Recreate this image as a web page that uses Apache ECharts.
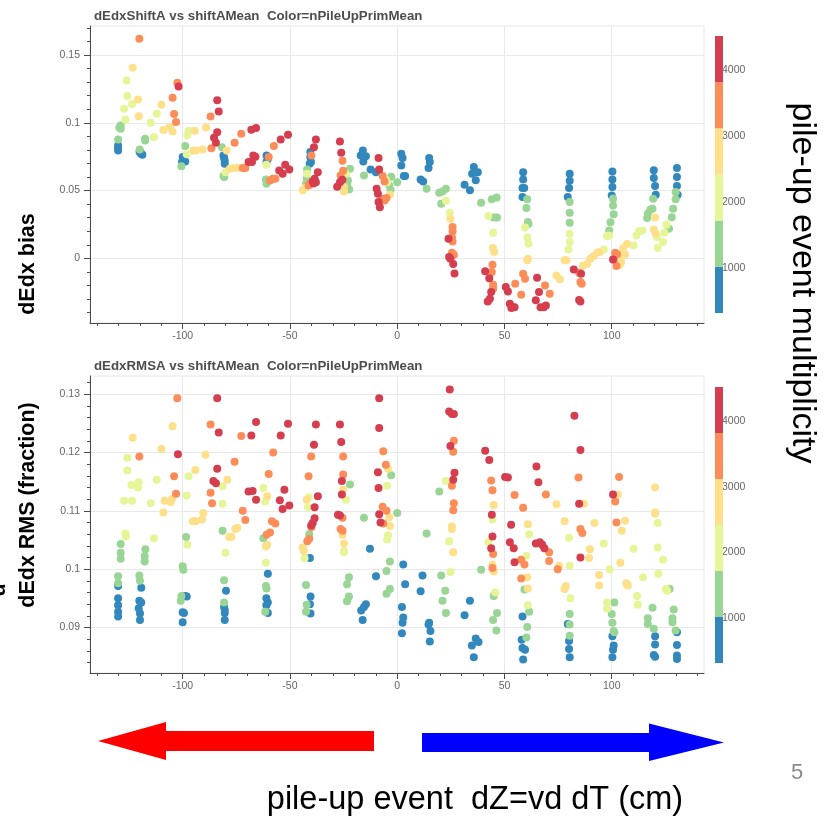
<!DOCTYPE html>
<html><head><meta charset="utf-8">
<script src="https://cdn.jsdelivr.net/npm/echarts@6.0.0/dist/echarts.min.js"></script>
<style>html,body{margin:0;padding:0;background:#fff}#c{width:829px;height:816px}</style>
</head><body><div id="c"></div>
<script>
// colour bins of nPileUpPrimMean (colour bar) and representative value per bin
const binEdges = [320, 1020, 1720, 2420, 3120, 3820, 4520];
const binColors = ['#3288bd', '#99d594', '#e6f598', '#fee08b', '#fc8d59', '#d53e4f'];
const binMid = [670, 1370, 2070, 2770, 3470, 4170];
const barTicks = [1000, 2000, 3000, 4000];
const xTicks = [-100, -50, 0, 50, 100];
const biasTicks = [0, 0.05, 0.1, 0.15];
const rmsTicks = [0.09, 0.1, 0.11, 0.12, 0.13];

// dEdx bias vs shiftAMean, grouped by colour bin
const biasBlue = [[-130.1,0.0833],[-130.1,0.0813],[-130.1,0.0796],[-120.1,0.0789],[-119.8,0.078],[-119.3,0.0771],[-118.8,0.0764],
[-100,0.0747],[-99.4,0.073],[-98.8,0.0715],[-100.3,0.071],[-81,0.0759],[-80.7,0.074],[-80.4,0.0722],[-80.4,0.0697],
[-60.9,0.0759],[-60.3,0.0735],[-60.9,0.071],[-40.5,0.0784],[-40.5,0.0747],[-40.2,0.071],[-40.8,0.0698],
[-16,0.0796],[-17,0.0759],[-14.6,0.0754],[-15.8,0.0715],[-12.4,0.0656],[-9.9,0.0636],
[1.9,0.0771],[2.5,0.074],[1.9,0.0685],[3.1,0.0607],[3.7,0.0607],[10.9,0.0582],[12.1,0.0567],[14.9,0.074],[15.2,0.071],[14.6,0.0666],
[31.4,0.0543],[33.9,0.0503],[35.7,0.0673],[34.9,0.0624],[37.6,0.0636],[36.6,0.0577],
[58.7,0.0636],[58.7,0.0582],[58.4,0.0518],[59.2,0.0518],[58.4,0.0452],[80.4,0.0624],[80.4,0.0572],[80.1,0.0518],[79.5,0.0452],
[100.3,0.0641],[100.3,0.0582],[100.3,0.0526],[100,0.0464],[119.6,0.0649],[119.6,0.0592],[120.2,0.0533],[120.5,0.0469],
[130.4,0.0666],[130.4,0.06],[130.4,0.0533],[130.7,0.0469]];
const biasGreen = [[-130.1,0.0877],[-128.9,0.098],[-128.9,0.0956],[-129.5,0.0965],[-120,0.0803],[-117.5,0.0882],[-117.5,0.087],
[-100.6,0.068],[-98.8,0.0828],[-81.7,0.082],[-81,0.0607],[-80.6,0.06],[-61.2,0.0582],[-60.9,0.055],
[-42,0.0656],[-42.2,0.0587],[-42.5,0.055],[-22,0.066],[-23,0.0575],[-22.4,0.0508],[-23.3,0.055],[-15.5,0.0612],
[-2.8,0.0602],[-3.7,0.0538],[-3.1,0.0506],[0,0.0562],[13.7,0.0513],[19.6,0.0484],[21.1,0.0494],[22.7,0.0513],[20.5,0.0403],
[39.1,0.041],[44.1,0.0435],[46.3,0.0449],[45,0.0302],[46.5,0.0302],[60.6,0.0435],[60.2,0.0371],[60.9,0.0268],[61.2,0.0253],
[80.4,0.0415],[80.4,0.0336],[80.4,0.0263],[98.8,0.0206],[99.4,0.0267],[100.9,0.0326],[100.6,0.039],[100.6,0.044],
[116.5,0.0297],[116.8,0.0329],[118,0.0361],[119,0.0366],[119.3,0.044],[126.7,0.0218],[128,0.0304],[128.6,0.0366],[129.8,0.0435],[129.8,0.0489]];
const biasLime = [[-126.1,0.1312],[-125.8,0.1197],[-123.6,0.1138],[-127.3,0.1103],[-126.7,0.1022],[-114.9,0.1],[-113.4,0.0894],[-112.1,0.1066],
[-97.8,0.0907],[-97.2,0.0941],[-98.1,0.0767],[-80.1,0.0636],[-61,0.069],[-42,0.0624],[-23.9,0.0624],[-5.4,0.0582],[-4.7,0.0562],
[22.7,0.0425],[24.5,0.0336],[42.5,0.0312],[44.7,0.0189],[59.6,0.0228],[60.6,0.0154],[61.2,0.0108],[80.4,0.0182],[80.4,0.012],[79.8,0.0066],
[96.3,0.0066],[97.8,0.0164],[98.8,0.0169],[110.2,0.0095],[111.5,0.0169],[112.7,0.0199],[114.3,0.0206],
[121.1,0.0157],[123.9,0.012],[121.4,0.0076],[125.5,0.0248],[124.5,0.0189]];
const biasYellow = [[-123.3,0.1406],[-120.8,0.1172],[-120.5,0.1049],[-109.9,0.1133],[-109,0.0946],[-105.9,0.0968],[-104.7,0.0936],
[-94.4,0.0941],[-95,0.0796],[-93.8,0.0796],[-90.7,0.0803],[-89.1,0.0966],[-79.5,0.0796],[-78,0.066],[-76.1,0.0666],[-74.2,0.0669],
[-44,0.0503],[-43,0.0518],[-24.8,0.0526],[-24.8,0.0494],[-3.4,0.0469],[24.8,0.0292],[44.6,0.0076],[45.2,0.0046],[60.9,-0.0003],[60.6,-0.0015],
[74.2,-0.0126],[75.8,-0.0155],[78,-0.0015],[78.9,-0.0015],[86.6,-0.0052],[88.5,-0.0042],[90,-0.0003],[91.6,0.0017],[93.2,0.0041],[94.4,0.0046],
[104,0.0022],[105.3,0.0076],[107.1,0.0105],[104.3,-0.0028],[106.2,0.0027],[103.7,-0.0047],[120.2,0.0302],[119.6,0.0213],[120.5,0.0182]];
const biasOrange = [[-120.2,0.162],[-104.7,0.1184],[-104,0.1064],[-103.1,0.1005],[-102.5,0.1295],[-87,0.1047],[-86.6,0.0813],
[-75.8,0.0853],[-72.7,0.0919],[-72,0.0666],[-70.8,0.0666],[-59.9,0.0747],[-59.3,0.0575],[-58,0.0587],[-56.8,0.0587],[-57.5,0.0828],
[-40,0.0759],[-41.3,0.0538],[-40.7,0.0553],[-25.5,0.072],[-25.2,0.0646],[-26.4,0.0612],
[-6.8,0.0607],[-5.9,0.0567],[-6.8,0.044],[-5,0.0445],[-5.9,0.0427],
[25.8,0.0231],[25.8,0.0199],[25.5,0.0154],[25.8,0.0125],[25.5,0.0041],[26.4,0.0027],
[44.4,-0.0047],[44.1,-0.0101],[44.7,-0.0195],[44.7,-0.0224],[55,-0.0187],[57.8,-0.0268],[58.7,-0.0114],[59.6,-0.015],
[68.9,-0.02],[71.1,-0.0261],[84.8,-0.0106],[85.4,-0.0175],[86,-0.0187],[101.6,0.0041],[102.5,0.0031],[100.9,-0.0008],[102.2,-0.0057]];
const biasRed = [[-101.9,0.1268],[-83.9,0.1167],[-83.2,0.1084],[-85.4,0.0889],[-84.5,0.0853],[-83.9,0.0931],
[-69.3,0.071],[-67.7,0.071],[-67.1,0.0759],[-66.1,0.075],[-68,0.0948],[-65.8,0.0961],
[-54.3,0.0877],[-50.9,0.0911],[-55,0.0648],[-53.4,0.0624],[-52.2,0.069],[-50.3,0.0656],
[-37.9,0.0877],[-38.8,0.082],[-37,0.0636],[-38.5,0.0587],[-39.4,0.0567],[-39,0.0553],[-37.9,0.0562],
[-26.7,0.0862],[-26.1,0.0779],[-28,0.0528],[-26.7,0.0562],[-25.6,0.058],
[-8.7,0.074],[-8.4,0.0656],[-9.6,0.0513],[-9,0.0476],[-8.7,0.0415],[-8.1,0.0376],
[23.9,0.0145],[24.2,0.0009],[24.8,-0.0003],[26.1,-0.0042],[26.7,-0.0111],
[41,-0.0096],[42.9,-0.0146],[43.8,-0.0249],[43.2,-0.0298],[42.2,-0.0318],
[50.6,-0.0212],[51.6,-0.0244],[52.5,-0.0335],[53.6,-0.036],[54.7,-0.036],[53.2,-0.0367],
[65.2,-0.0143],[66.1,-0.0249],[64.6,-0.031],[66.8,-0.036],[68.3,-0.036],[69.3,-0.0347],
[82.3,-0.0082],[85.7,-0.0114],[84.8,-0.0308],[85.4,-0.0318],[100.6,-0.0008]];

// dEdx RMS vs shiftAMean, grouped by colour bin
const rmsBlue = [[-130.1,0.0971],[-130.1,0.095],[-130.1,0.0938],[-130.1,0.0927],[-130.1,0.0919],
[-119.3,0.0968],[-120.2,0.0946],[-119.3,0.0943],[-120.5,0.0933],[-119.9,0.0924],[-119.9,0.0913],
[-98.8,0.0954],[-98.1,0.0953],[-100,0.0926],[-99.4,0.0925],[-100,0.0909],
[-79.8,0.0963],[-80.7,0.0935],[-80.4,0.093],[-80.4,0.0925],[-80.4,0.0913],
[-60.3,0.0992],[-61,0.095],[-60.3,0.0943],[-61,0.0938],[-60.3,0.0925],
[-40.7,0.1019],[-40.4,0.0953],[-40.7,0.094],[-40.4,0.0924],
[-12.7,0.1035],[-14.6,0.094],[-15.5,0.0935],[-16.8,0.0929],[-16.1,0.0913],[-9.9,0.0988],
[2.8,0.1008],[3.7,0.0974],[2.2,0.0935],[2.8,0.0917],[2.5,0.0908],[2.2,0.089],[11.8,0.0989],[10.9,0.0962],
[14.9,0.0908],[15.5,0.0894],[14.6,0.0905],[15.2,0.0876],
[33.9,0.0946],[31.4,0.0921],[36.6,0.0881],[37.9,0.0875],[34.8,0.0869],[35.7,0.0849],
[58.4,0.0919],[58,0.0879],[58.4,0.0865],[59.6,0.0862],[58.7,0.0845],
[79.5,0.0906],[80.1,0.0877],[80.1,0.0863],[80.4,0.0849],
[100.3,0.0885],[100.9,0.0869],[100.6,0.0862],[100.3,0.0849],
[120.2,0.0885],[120.2,0.0871],[119.6,0.0853],[120.2,0.085],
[130.4,0.0892],[130.4,0.087],[130.4,0.0852],[130.4,0.0846]];
const rmsGreen = [[-128.9,0.1043],[-128.9,0.1028],[-128.9,0.1018],[-130.1,0.0988],[-130.1,0.0976],
[-117.4,0.1034],[-117.7,0.1022],[-117.7,0.1013],[-120.2,0.0989],[-119.9,0.098],
[-100,0.1005],[-99.7,0.0999],[-100.6,0.0954],[-100.9,0.0946],[-98.4,0.1055],
[-81.4,0.1066],[-80.7,0.0981],[-80.7,0.0943],[-62.4,0.1053],[-60.9,0.0967],[-61.2,0.0971],[-61.5,0.0927],
[-42.5,0.0973],[-42.2,0.0939],[-42.5,0.0927],[-41,0.106],
[-22,0.1145],[-22.5,0.0986],[-23.4,0.0974],[-22.5,0.0953],[-23.4,0.0945],[-15.5,0.1088],
[-2.8,0.1161],[0,0.1096],[-3.4,0.1013],[-5,0.0997],[-3.4,0.0966],[-5,0.0958],[13.7,0.1061],
[19.6,0.1133],[20.5,0.0989],[22.4,0.0963],[21.1,0.0946],[22.7,0.0925],[39.1,0.0999],
[45,0.0954],[44.7,0.0913],[46.5,0.0925],[46.2,0.0895],[59.3,0.0965],[61.5,0.0927],[60.6,0.0901],[60.2,0.0883],
[80.4,0.0923],[80.4,0.0905],[80.4,0.0886],[101.2,0.0943],[100,0.0923],[100.3,0.0908],[100.9,0.0894],[101.2,0.0892],
[127,0.0966],[119,0.0934],[116.8,0.0916],[116.8,0.0906],[119.6,0.0898],[128.9,0.0931],[128.3,0.0916],[128.3,0.0909],[129.8,0.0895]];
const rmsLime = [[-125.8,0.1191],[-125.8,0.1169],[-123.9,0.1144],[-120.5,0.1149],[-120.8,0.114],
[-112.1,0.1153],[-127.3,0.1117],[-123.6,0.1117],[-114.9,0.1113],[-126.7,0.1061],[-126.4,0.1056],[-113.4,0.1053],
[-97.2,0.1159],[-98.1,0.1126],[-97.8,0.1042],[-81.4,0.1142],[-81.4,0.1112],[-80.1,0.1028],
[-62.4,0.1139],[-61.5,0.1116],[-61.2,0.1011],[-41.3,0.1123],[-41.6,0.1106],[-43.2,0.1019],
[-23.9,0.1119],[-24.8,0.1031],[-24.8,0.1029],[-4.7,0.1143],[-4.3,0.1058],[-4.7,0.1051],
[22.7,0.1151],[24.2,0.1048],[24.8,0.0995],[44.4,0.1085],[42.5,0.1046],[45.7,0.096],
[61.5,0.106],[60.2,0.1023],[60.9,0.0938],[80.1,0.1054],[80.4,0.1006],[80.7,0.095],
[96.3,0.1044],[99.1,0.1],[97.8,0.0943],[97.8,0.0932],[110.2,0.1035],[114.6,0.0986],[111.8,0.0954],[112.1,0.0939],
[121.4,0.1079],[121.4,0.1037],[123.9,0.1016],[121.7,0.0992],[125.2,0.0966],[125.8,0.0963]];
const rmsYellow = [[-123.3,0.1225],[-104.7,0.1245],[-109.9,0.1206],[-89.4,0.1196],[-94.1,0.117],[-79.2,0.1153],
[-60.6,0.1125],[-108.4,0.1117],[-105.6,0.1115],[-105,0.112],[-109,0.1097],[-90.4,0.1096],[-95.3,0.1082],[-94.1,0.1082],[-91,0.1085],
[-75.5,0.1069],[-74.5,0.1071],[-78.3,0.1055],[-77.3,0.1055],[-61.2,0.1039],[-60.6,0.1042],
[-42.2,0.1119],[-44.1,0.1037],[-43.5,0.1031],[-25.2,0.1136],[-25.5,0.1059],[-24.8,0.1044],
[-4.3,0.1172],[-3.7,0.1089],[-3.4,0.1074],[25.5,0.1073],[25.5,0.1069],[26.1,0.1029],
[45,0.111],[44.4,0.1008],[45,0.0996],[60.9,0.1077],[60.6,0.0986],[60.9,0.0967],
[74.2,0.1111],[75.5,0.1006],[78,0.1082],[78.6,0.0971],[78,0.0966],
[87,0.1112],[89.8,0.1034],[89.4,0.1019],[91.9,0.1079],[94.1,0.099],[94.1,0.0972],
[102.8,0.1128],[106.2,0.1083],[104.7,0.1066],[104,0.1011],[106.8,0.0976],[107.5,0.0972],
[120.2,0.114],[120.2,0.1097],[120.2,0.1095]];
const rmsOrange = [[-102.5,0.1293],[-87,0.1248],[-72.7,0.1228],[-120.2,0.1193],[-57.8,0.12],[-75.8,0.1184],[-104,0.1159],[-59.9,0.1163],
[-103.1,0.1129],[-87,0.1131],[-86.3,0.1113],[-72,0.11],[-70.8,0.1084],[-58.4,0.1082],[-56.8,0.1078],[-60.9,0.1059],[-59.3,0.1063],
[-40.1,0.1193],[-41.3,0.1159],[-40,0.1072],[-41,0.1052],[-41.9,0.1048],
[-25.2,0.1193],[-25.2,0.1162],[-25.5,0.1088],[-26.4,0.1069],[-25.5,0.1066],
[-6.5,0.1202],[-5.3,0.1179],[-6.8,0.1107],[-5,0.11],[-6.5,0.1078],
[26.4,0.122],[26.1,0.1201],[25.5,0.1143],[26.4,0.1113],[26.1,0.1101],
[43.8,0.1152],[44.4,0.1135],[44.7,0.1026],[44.4,0.1002],
[54.7,0.1127],[57.8,0.1016],[59.3,0.1008],[57.8,0.0984],[58.7,0.1105],
[69.3,0.1128],[70.8,0.1029],[70.8,0.1014],[74.8,0.1],[84.5,0.1157],[85.4,0.1069],[86.3,0.1062],
[103.4,0.1158],[101.6,0.1116],[102.2,0.108]];
const rmsRed = [[-83.9,0.1293],[-83.2,0.1234],[-65.8,0.1252],[-68,0.1229],[-54.3,0.1229],[-50.9,0.1249],
[-102.2,0.1197],[-83.9,0.1172],[-85.7,0.1151],[-84.5,0.1147],
[-69.3,0.1133],[-67.4,0.1134],[-65.8,0.1119],[-52.6,0.1136],[-54.7,0.1118],[-53.4,0.1103],[-50.3,0.1109],
[-37.9,0.1248],[-38.8,0.1213],[-37,0.1125],[-38.5,0.1106],[-38.5,0.1087],[-39.4,0.1079],[-40.1,0.1075],
[-26.7,0.1248],[-26.1,0.1218],[-25.8,0.1151],[-25.8,0.1128],[-27.6,0.1093],[-26.7,0.1092],
[-8.4,0.1293],[-8.4,0.1242],[-9,0.1166],[-8.7,0.1139],[-8.4,0.1094],[-7.8,0.108],
[24.5,0.1308],[24.2,0.127],[25.5,0.1266],[26.4,0.1266],[24.8,0.1211],[26.7,0.1165],[26.1,0.1153],
[41,0.1203],[42.9,0.1187],[44.1,0.1093],[44.4,0.1056],[43.8,0.1036],
[50.3,0.1158],[51.6,0.1157],[53.1,0.1076],[52.5,0.1046],[54.3,0.1036],[54.7,0.1012],
[64.9,0.1176],[65.8,0.1149],[64.6,0.1044],[66.5,0.1046],[67.6,0.1042],[68.6,0.1036],
[82.6,0.1263],[85.4,0.1204],[84.8,0.1112],[85.4,0.102],[100.6,0.1128]];

const biasGroups = [biasBlue, biasGreen, biasLime, biasYellow, biasOrange, biasRed];
const rmsGroups = [rmsBlue, rmsGreen, rmsLime, rmsYellow, rmsOrange, rmsRed];
function build(groups){ const out=[]; groups.forEach((g,i)=>g.forEach(p=>out.push([p[0],p[1],binMid[i]]))); return out; }
const barData = binColors.map((c,i)=>({value:[binEdges[i], binEdges[i+1]], itemStyle:{color:c}}));

const FONT = 'Liberation Sans, Arial, sans-serif';
const AX = '#4a4a4a';
function xAxisDef(gi){ return {
  type:'value', gridIndex:gi, min:-143.2, max:143,
  axisLine:{onZero:false, lineStyle:{color:AX}},
  axisTick:{customValues:xTicks, length:6, lineStyle:{color:AX}},
  minorTick:{show:true, splitNumber:5, length:3, lineStyle:{color:AX}},
  axisLabel:{customValues:xTicks, color:'#666', fontSize:10.5, margin:8, fontFamily:FONT},
  splitLine:{show:true, lineStyle:{color:'#e9e9e9'}},
  minorSplitLine:{show:false}
};}
function yAxisDef(gi,min,max,ticks){ return {
  type:'value', gridIndex:gi, min:min, max:max,
  axisLine:{show:true, onZero:false, lineStyle:{color:AX}},
  axisTick:{show:true, customValues:ticks, length:6, lineStyle:{color:AX}},
  minorTick:{show:true, splitNumber:5, length:3, lineStyle:{color:AX}},
  axisLabel:{customValues:ticks, color:'#666', fontSize:10.5, margin:10, fontFamily:FONT},
  splitLine:{show:true, lineStyle:{color:'#e9e9e9'}}
};}
function barY(gi){ return {
  type:'value', gridIndex:gi, min:binEdges[0], max:binEdges[binEdges.length-1], position:'right',
  axisLine:{show:false, onZero:false}, splitLine:{show:false},
  axisTick:{show:true, inside:true, customValues:barTicks, length:5, lineStyle:{color:'#555'}},
  axisLabel:{customValues:barTicks, color:'#666', fontSize:10.5, margin:-1, fontFamily:FONT, formatter:v=>String(v)}
};}
function barX(gi){ return {type:'value', gridIndex:gi, min:0, max:1, show:false}; }
function renderBin(params, api){
  const p1 = api.coord([0, api.value(1)]);
  const p2 = api.coord([1, api.value(0)]);
  return {type:'rect', shape:{x:p1[0], y:p1[1], width:p2[0]-p1[0], height:p2[1]-p1[1]}, style:{fill:api.visual('color')}};
}
const pieces = binColors.map((c,i)=>({gte:binEdges[i], lt:binEdges[i+1], color:c}));

const chart = echarts.init(document.getElementById('c'), null, {renderer:'canvas'});
chart.setOption({
  backgroundColor:'#fff',
  animation:false,
  grid:[
    {left:90, top:26, width:614, height:297, show:true, borderColor:'#e6e6e6', borderWidth:1},
    {left:715, top:36, width:8, height:277},
    {left:90, top:376, width:614, height:297, show:true, borderColor:'#e6e6e6', borderWidth:1},
    {left:715, top:387, width:8, height:276}
  ],
  xAxis:[xAxisDef(0), barX(1), xAxisDef(2), barX(3)],
  yAxis:[yAxisDef(0,-0.0477,0.1714,biasTicks), barY(1), yAxisDef(2,0.0822,0.1331,rmsTicks), barY(3)],
  visualMap:[{type:'piecewise', show:false, dimension:2, seriesIndex:[0,2], pieces:pieces}],
  title:[
    {text:'dEdxShiftA vs shiftAMean  Color=nPileUpPrimMean', left:89, top:5,
     textStyle:{fontSize:13.3, fontWeight:'bold', color:'#4d4d4d', fontFamily:FONT}},
    {text:'dEdxRMSA vs shiftAMean  Color=nPileUpPrimMean', left:89, top:355,
     textStyle:{fontSize:13.3, fontWeight:'bold', color:'#4d4d4d', fontFamily:FONT}}
  ],
  series:[
    {type:'scatter', xAxisIndex:0, yAxisIndex:0, symbolSize:8, data:build(biasGroups), itemStyle:{opacity:1}},
    {type:'custom', xAxisIndex:1, yAxisIndex:1, renderItem:renderBin, data:barData, encode:{x:[], y:[0,1]}},
    {type:'scatter', xAxisIndex:2, yAxisIndex:2, symbolSize:8, data:build(rmsGroups), itemStyle:{opacity:1}},
    {type:'custom', xAxisIndex:3, yAxisIndex:3, renderItem:renderBin, data:barData, encode:{x:[], y:[0,1]}}
  ],
  graphic:[
    {type:'text', x:28, y:264, rotation:Math.PI/2, style:{text:'dEdx bias', align:'center', verticalAlign:'middle', fontSize:21.5, fontWeight:'bold', fontFamily:FONT, fill:'#000'}},
    {type:'text', x:28, y:505, rotation:Math.PI/2, style:{text:'dEdx RMS (fraction)', align:'center', verticalAlign:'middle', fontSize:21.5, fontWeight:'bold', fontFamily:FONT, fill:'#000'}},
    {type:'text', x:-1, y:590, rotation:Math.PI/2, style:{text:'u', align:'center', verticalAlign:'middle', fontSize:21.5, fontWeight:'bold', fontFamily:FONT, fill:'#000'}},
    {type:'text', x:802, y:283, rotation:-Math.PI/2, style:{text:'pile-up event multiplicity', align:'center', verticalAlign:'middle', fontSize:34, fontFamily:FONT, fill:'#000'}},
    {type:'text', x:797, y:773, style:{text:'5', align:'center', verticalAlign:'middle', fontSize:22, fontFamily:FONT, fill:'#8a8a8a'}},
    {type:'text', x:475, y:800, style:{text:'pile-up event  dZ=vd dT (cm)', align:'center', verticalAlign:'middle', fontSize:32.5, fontFamily:FONT, fill:'#000'}},
    {type:'polygon', shape:{points:[[98,741],[166,722],[166,731],[374,731],[374,751],[166,751],[166,760]]}, style:{fill:'#ff0000'}},
    {type:'polygon', shape:{points:[[422,733],[649,733],[649,723.5],[724,742.5],[649,761],[649,752],[422,752]]}, style:{fill:'#0000ff'}}
  ]
});
</script>
</body></html>
